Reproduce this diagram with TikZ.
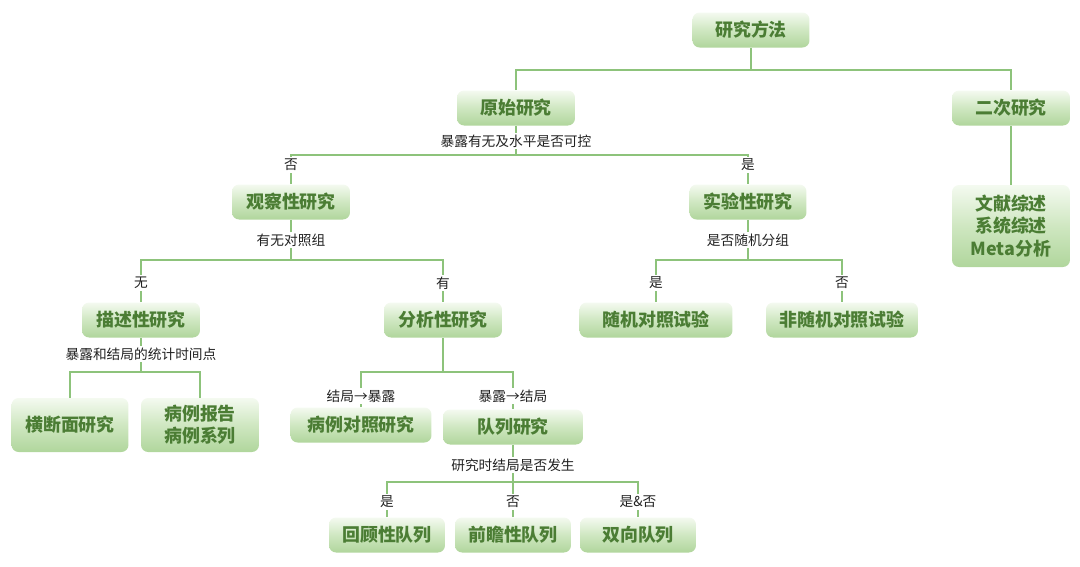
\documentclass[tikz,border=0pt]{standalone}
\usepackage{fontspec}
\setmainfont{Noto Sans CJK SC}
\definecolor{boxtop}{HTML}{F4FAF0}
\definecolor{boxmid}{HTML}{CFE7C1}
\definecolor{boxbot}{HTML}{B0D69C}
\definecolor{boxtxt}{HTML}{4B7D34}
\definecolor{linec}{HTML}{8DC37B}
\definecolor{lbltxt}{HTML}{222222}
\begin{document}
\begin{tikzpicture}[x=0.02cm,y=-0.02cm,
	box/.style={rounded corners=4pt,top color=boxtop,bottom color=boxbot,middle color=boxmid,
		text=boxtxt,font=\fontsize{10.2}{12.6}\selectfont\bfseries,align=center,inner sep=0pt,
		minimum width=2.36cm,minimum height=0.7cm},
	tall/.style={minimum height=1.08cm},
	link/.style={linec,line width=0.9pt},
	lbl/.style={fill=white,inner sep=1pt,text=lbltxt,font=\fontsize{7.8}{9}\selectfont}]
	\useasboundingbox (0,0) rectangle (1080,566);

	\node[box,minimum width=2.34cm] (method) at (751,30) {研究方法};
	\node[box] (orig) at (516,108) {原始研究};
	\node[box] (second) at (1011,108) {二次研究};
	\node[box,minimum height=1.64cm] (review) at (1011,226) {文献综述\\系统综述\\Meta分析};

	\node[box] (obs) at (291,202) {观察性研究};
	\node[box,minimum width=2.34cm] (exp) at (748,202) {实验性研究};

	\node[box] (desc) at (141,320) {描述性研究};
	\node[box] (anal) at (443,320) {分析性研究};
	\node[box,minimum width=3.06cm] (rct) at (656,320) {随机对照试验};
	\node[box,minimum width=3.04cm] (nrct) at (842,320) {非随机对照试验};

	\node[box,tall,minimum width=2.34cm] (cross) at (70,425) {横断面研究};
	\node[box,tall] (casers) at (200,425) {病例报告\\病例系列};
	\node[box,minimum width=2.82cm] (casectl) at (361,425) {病例对照研究};
	\node[box,minimum width=2.8cm] (cohort) at (513,427) {队列研究};

	\node[box,minimum width=2.32cm] (retro) at (387,535) {回顾性队列};
	\node[box,minimum width=2.32cm] (pros) at (513,535) {前瞻性队列};
	\node[box,minimum width=2.32cm] (bidir) at (638,535) {双向队列};

	\coordinate (j0) at (751,70);
	\coordinate (j1) at (516,155);
	\coordinate (j2) at (291,260);
	\coordinate (j3) at (748,260);
	\coordinate (j4) at (141,372);
	\coordinate (j5) at (443,372);
	\coordinate (j6) at (513,482);

	\draw[link] (method.south) -- (j0);
	\draw[link] (orig.north) |- (j0) -| (second.north);
	\draw[link] (second.south) -- (review.north);

	\draw[link] (orig.south) -- (j1);
	\draw[link] (obs.north) |- (j1) -| (exp.north);

	\draw[link] (obs.south) -- (j2);
	\draw[link] (desc.north) |- (j2) -| (anal.north);
	\draw[link] (exp.south) -- (j3);
	\draw[link] (rct.north) |- (j3) -| (nrct.north);

	\draw[link] (desc.south) -- (j4);
	\draw[link] (cross.north) |- (j4) -| (casers.north);
	\draw[link] (anal.south) -- (j5);
	\draw[link] (casectl.north) |- (j5) -| (cohort.north);

	\draw[link] (cohort.south) -- (j6);
	\draw[link] (retro.north) |- (j6) -| (bidir.north);
	\draw[link] (pros.north) -- (j6);

	\node[lbl] (q1) at (516,141) {暴露有无及水平是否可控};
	\node[lbl] (a1) at (291,165) {否};
	\node[lbl] (b1) at (748,165) {是};

	\node[lbl] (q2) at (291,240) {有无对照组};
	\node[lbl] (a2) at (141,283) {无};
	\node[lbl] (b2) at (443,283) {有};

	\node[lbl] (q3) at (748,240) {是否随机分组};
	\node[lbl] (a3) at (656,283) {是};
	\node[lbl] (b3) at (842,283) {否};

	\node[lbl] (q4) at (141,354) {暴露和结局的统计时间点};
	\node[lbl] (a5) at (361,396) {结局→暴露};
	\node[lbl] (b5) at (513,396) {暴露→结局};

	\node[lbl] (q6) at (513,465) {研究时结局是否发生};
	\node[lbl] (a6) at (387,502) {是};
	\node[lbl] (b6) at (513,502) {否};
	\node[lbl] (c6) at (638,502) {是\&否};
\end{tikzpicture}
\end{document}
